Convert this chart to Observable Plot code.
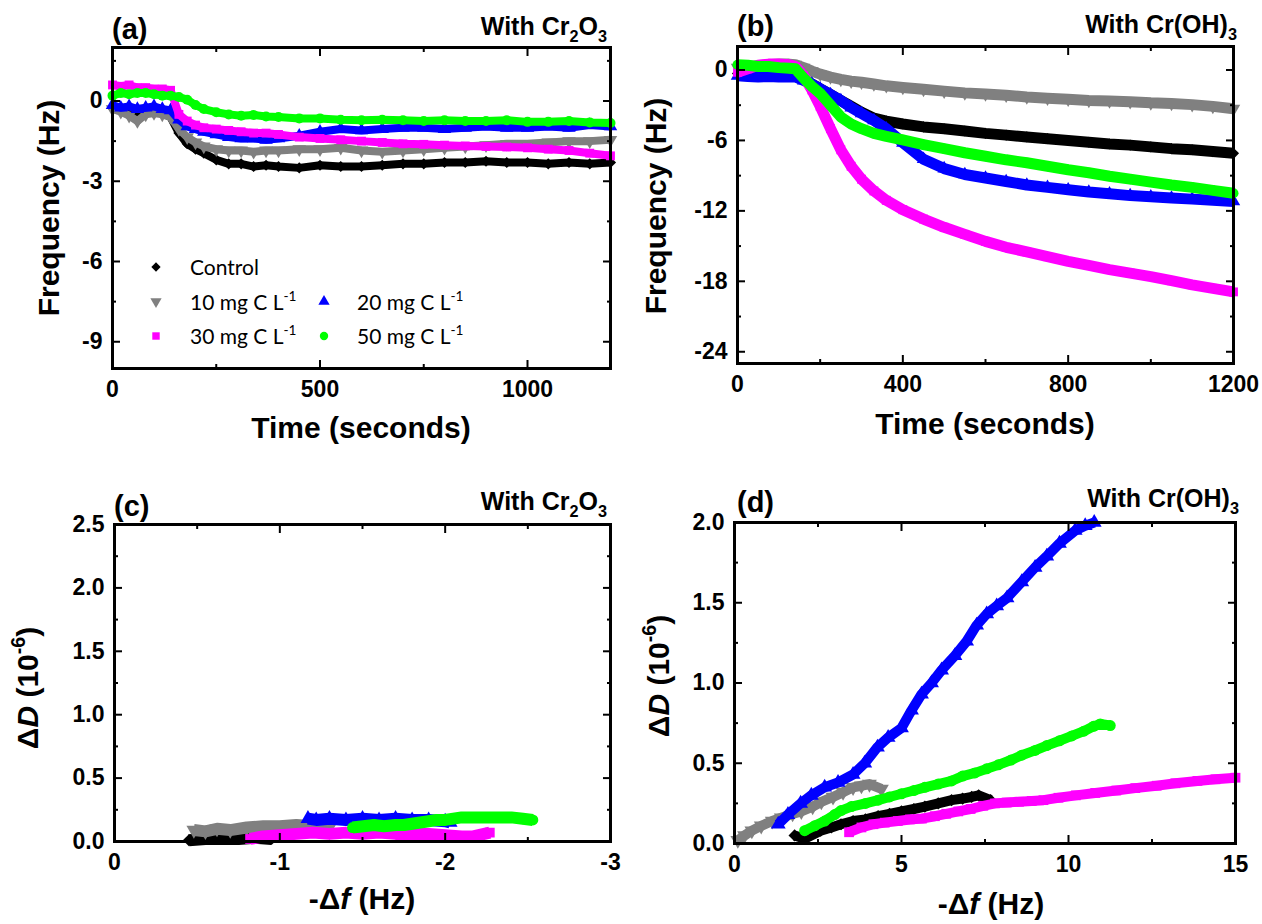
<!DOCTYPE html>
<html><head><meta charset="utf-8">
<script src="https://cdn.jsdelivr.net/npm/d3@7"></script>
<script src="https://cdn.jsdelivr.net/npm/@observablehq/plot@0.6"></script>
<style>
html,body{margin:0;padding:0;background:#fff;}
#wrap{position:relative;width:1262px;height:924px;overflow:hidden;background:#fff;}
.panel{position:absolute;}
</style></head><body><div id="wrap"></div>
<script>
// ---------- series meta ----------
const seriesNames = ["Control", "10 mg C L", "20 mg C L", "30 mg C L", "50 mg C L"];
const seriesColors = ["#000000", "#808080", "#0000ff", "#ff00ff", "#00ff00"];
const seriesSymbols = ["diamond2", "triangle", "triangle", "square", "circle"];
const seriesRotate = [0, 180, 0, 0, 0];

// ---------- panel (a): frequency vs time, Cr2O3 ----------
const timeA = [0,20,40,60,80,100,120,140,160,180,200,220,250,280,310,340,370,400,450,500,550,600,650,700,750,800,850,900,950,1000,1050,1100,1150,1200];
const controlA = [-0.25,-0.35,-0.4,-0.5,-0.45,-0.4,-0.45,-0.6,-1.2,-1.6,-1.8,-1.95,-2.2,-2.35,-2.35,-2.45,-2.4,-2.45,-2.5,-2.4,-2.45,-2.45,-2.4,-2.35,-2.35,-2.3,-2.3,-2.25,-2.3,-2.3,-2.35,-2.3,-2.35,-2.3];
const c10A = [-0.3,-0.4,-0.55,-0.75,-0.5,-0.45,-0.5,-0.6,-1.05,-1.35,-1.55,-1.7,-1.8,-1.85,-1.85,-1.9,-1.85,-1.85,-1.8,-1.8,-1.75,-1.85,-1.9,-1.85,-1.8,-1.75,-1.7,-1.65,-1.6,-1.6,-1.55,-1.5,-1.5,-1.45];
const c20A = [-0.15,-0.25,-0.2,-0.3,-0.25,-0.2,-0.3,-0.35,-0.7,-0.95,-1.05,-1.15,-1.25,-1.35,-1.4,-1.4,-1.45,-1.4,-1.3,-1.15,-1.05,-1.1,-1.05,-1.0,-1.0,-1.05,-1.0,-0.95,-1.0,-1.0,-0.95,-1.0,-0.9,-0.95];
const c30A = [0.6,0.55,0.6,0.5,0.5,0.45,0.45,0.4,-0.5,-0.75,-0.9,-1.0,-1.05,-1.1,-1.15,-1.2,-1.2,-1.25,-1.35,-1.4,-1.45,-1.5,-1.55,-1.6,-1.62,-1.65,-1.68,-1.7,-1.72,-1.75,-1.8,-1.85,-1.95,-2.05];
const c50A = [0.2,0.3,0.25,0.3,0.3,0.25,0.2,0.2,0.15,0.05,-0.15,-0.3,-0.42,-0.5,-0.55,-0.52,-0.58,-0.6,-0.65,-0.65,-0.7,-0.72,-0.7,-0.72,-0.75,-0.72,-0.75,-0.75,-0.72,-0.78,-0.78,-0.75,-0.8,-0.82];

// ---------- panel (b): frequency vs time, Cr(OH)3 ----------
const timeB = [0,25,50,75,100,125,140,160,180,200,225,250,275,300,330,360,400,450,500,550,600,650,700,750,800,850,900,950,1000,1050,1100,1150,1200];
const controlB = [-0.3,-0.3,-0.35,-0.3,-0.35,-0.35,-0.4,-0.8,-1.2,-1.6,-2.1,-2.6,-3.1,-3.6,-4.1,-4.35,-4.6,-4.85,-5.0,-5.2,-5.4,-5.55,-5.7,-5.85,-6.0,-6.15,-6.3,-6.4,-6.55,-6.7,-6.8,-6.95,-7.1];
const c10B = [0.2,0.3,0.35,0.45,0.5,0.5,0.45,0.2,-0.1,-0.35,-0.6,-0.8,-0.95,-1.05,-1.2,-1.35,-1.5,-1.65,-1.8,-1.95,-2.05,-2.15,-2.3,-2.4,-2.5,-2.6,-2.65,-2.7,-2.8,-2.85,-2.95,-3.1,-3.3];
const c20B = [-0.5,-0.55,-0.6,-0.55,-0.6,-0.6,-0.6,-0.9,-1.2,-1.6,-2.1,-2.6,-3.2,-3.7,-4.3,-5.0,-6.2,-7.6,-8.4,-8.9,-9.2,-9.5,-9.8,-10.0,-10.2,-10.4,-10.55,-10.7,-10.8,-10.9,-11.0,-11.1,-11.2];
const c30B = [-0.2,0.1,0.4,0.5,0.5,0.45,0.3,-0.5,-1.7,-3.1,-5.0,-6.8,-8.2,-9.3,-10.3,-11.1,-11.9,-12.7,-13.4,-14.0,-14.6,-15.1,-15.5,-15.9,-16.3,-16.65,-17.0,-17.3,-17.6,-17.95,-18.3,-18.6,-18.9];
const c50B = [0.45,0.4,0.3,0.3,0.2,0.15,0.1,-0.7,-1.4,-2.0,-3.0,-4.0,-4.6,-5.0,-5.4,-5.65,-5.95,-6.35,-6.7,-7.05,-7.35,-7.65,-7.9,-8.2,-8.5,-8.75,-9.05,-9.3,-9.55,-9.8,-10.0,-10.25,-10.5];

// ---------- panel (c): dissipation vs -Δf, Cr2O3 ----------
const controlC_f = [-0.45,-0.55,-0.65,-0.75,-0.85,-0.95];
const controlC_d = [0.01,0.02,0.02,0.02,0.03,0.02];
const c10C_f = [-0.48,-0.55,-0.62,-0.7,-0.8,-0.9,-1.0,-1.1,-1.2,-1.3];
const c10C_d = [0.09,0.08,0.1,0.09,0.11,0.12,0.12,0.13,0.12,0.11];
const c20C_f = [-1.17,-1.22,-1.3,-1.4,-1.5,-1.6,-1.7,-1.8,-1.9,-2.0,-2.03];
const c20C_d = [0.18,0.17,0.18,0.17,0.18,0.17,0.18,0.17,0.17,0.16,0.15];
const c30C_f = [-0.82,-0.9,-1.0,-1.1,-1.2,-1.3,-1.4,-1.5,-1.6,-1.7,-1.8,-1.9,-2.0,-2.1,-2.17,-2.27];
const c30C_d = [0.02,0.04,0.05,0.06,0.07,0.06,0.07,0.06,0.07,0.06,0.06,0.06,0.05,0.04,0.04,0.07];
const c50C_f = [-1.44,-1.57,-1.63,-1.7,-1.75,-1.8,-1.85,-1.9,-1.95,-2.0,-2.05,-2.1,-2.2,-2.3,-2.4,-2.47,-2.53];
const c50C_d = [0.11,0.13,0.12,0.13,0.13,0.14,0.15,0.16,0.17,0.17,0.18,0.19,0.19,0.19,0.19,0.18,0.17];

// ---------- panel (d): dissipation vs -Δf, Cr(OH)3 ----------
const controlD_f = [1.8,2.1,2.58,2.9,3.19,3.55,3.92,4.3,4.64,5.0,5.37,5.7,6.1,6.5,6.83,7.1,7.31,7.67];
const controlD_d = [0.05,0.03,0.08,0.1,0.12,0.14,0.15,0.17,0.185,0.2,0.215,0.23,0.25,0.27,0.28,0.29,0.30,0.27];
const c10D_f = [0.1,0.3,0.52,0.8,1.13,1.4,1.74,2.0,2.34,2.6,2.95,3.25,3.55,3.8,4.04,4.4];
const c10D_d = [0.02,0.05,0.08,0.11,0.14,0.16,0.185,0.2,0.23,0.26,0.29,0.32,0.35,0.36,0.37,0.34];
const c20D_f = [1.31,1.6,1.98,2.3,2.7,3.1,3.55,3.9,4.28,4.6,5.0,5.3,5.6,5.9,6.2,6.6,6.95,7.25,7.55,7.85,8.16,8.6,9.0,9.35,9.73,10.2,10.5,10.77];
const c20D_d = [0.12,0.18,0.25,0.3,0.35,0.38,0.43,0.5,0.6,0.66,0.72,0.83,0.93,1.0,1.08,1.17,1.26,1.36,1.43,1.48,1.53,1.63,1.72,1.79,1.87,1.95,1.98,2.0];
const c30D_f = [3.43,3.8,4.16,4.5,4.89,5.25,5.61,6.0,6.34,6.7,7.07,7.45,7.8,8.15,8.52,8.9,9.25,9.7,10.22,10.8,11.43,12.0,12.64,13.2,13.86,14.4,15.0];
const c30D_d = [0.07,0.1,0.12,0.13,0.14,0.15,0.155,0.17,0.185,0.2,0.215,0.235,0.25,0.255,0.26,0.265,0.27,0.285,0.30,0.315,0.33,0.345,0.36,0.375,0.39,0.40,0.41];
const c50D_f = [2.1,2.4,2.7,3.0,3.19,3.5,3.92,4.3,4.64,5.0,5.37,5.7,6.1,6.5,6.83,7.2,7.55,7.9,8.28,8.6,9.0,9.35,9.73,10.1,10.46,10.75,10.95,11.25];
const c50D_d = [0.08,0.11,0.14,0.18,0.205,0.23,0.25,0.27,0.29,0.31,0.33,0.35,0.37,0.39,0.42,0.44,0.465,0.49,0.52,0.55,0.58,0.61,0.64,0.67,0.70,0.73,0.745,0.735];

// ---------- ticks ----------
const xTicksA = [0, 500, 1000], xMinorA = [250, 750];
const yTicksA = [0, -3, -6, -9], yMinorA = [1.5, -1.5, -4.5, -7.5];
const xTicksB = [0, 400, 800, 1200], xMinorB = [200, 600, 1000];
const yTicksB = [0, -6, -12, -18, -24], yMinorB = [-3, -9, -15, -21];
const xTicksC = [0, -1, -2, -3], xMinorC = [-0.5, -1.5, -2.5];
const yTicksC = [0, 0.5, 1.0, 1.5, 2.0, 2.5], yMinorC = [0.25, 0.75, 1.25, 1.75, 2.25];
const xTicksD = [0, 5, 10, 15], xMinorD = [2.5, 7.5, 12.5];
const yTicksD = [0, 0.5, 1.0, 1.5, 2.0], yMinorD = [0.25, 0.75, 1.25, 1.75];

// ---------- helpers ----------
const FONT = "'Liberation Sans', Arial, Helvetica, sans-serif";
const LFONT = "Lato, 'Open Sans', sans-serif";
const intFmt = d => String(d);
const oneFmt = d => d.toFixed(1);

function build(xs, ys) { return xs.map((x, i) => ({x, y: ys[i]})); }
function makeSeries(list) {
  return list.map(([xs, ys], i) => ({data: build(xs, ys), color: seriesColors[i], symbol: seriesSymbols[i], rotate: seriesRotate[i]}));
}

function tickMarks(xMaj, xMin, yMaj, yMin) {
  const o = {fill: "none", label: null, stroke: "#000", strokeWidth: 2};
  const out = [];
  for (const a of ["bottom", "top"]) {
    out.push(Plot.axisX({...o, anchor: a, ticks: xMaj, tickSize: -8}));
    out.push(Plot.axisX({...o, anchor: a, ticks: xMin, tickSize: -4}));
  }
  for (const a of ["left", "right"]) {
    out.push(Plot.axisY({...o, anchor: a, ticks: yMaj, tickSize: -8}));
    out.push(Plot.axisY({...o, anchor: a, ticks: yMin, tickSize: -4}));
  }
  return out;
}

function makePanel(c) {
  const marks = [];
  c.series.forEach(s => {
    if (c.lineWidth) marks.push(Plot.line(s.data, {x: "x", y: "y", stroke: s.color, strokeWidth: c.lineWidth, strokeLinejoin: "round", strokeLinecap: "butt"}));
    marks.push(Plot.dot(s.data, {x: "x", y: "y", symbol: s.symbol, rotate: s.rotate, r: c.r, fill: s.color, stroke: "none"}));
  });
  marks.push(...tickMarks(c.xMaj, c.xMin, c.yMaj, c.yMin));
  marks.push(Plot.axisX({anchor: "bottom", ticks: c.xMaj, tickSize: 0, tickPadding: 12, tickFormat: c.xFmt, label: null, fontSize: 23, fontWeight: "bold", fontFamily: FONT, fill: "#000"}));
  marks.push(Plot.axisY({anchor: "left", ticks: c.yMaj, tickSize: 0, tickPadding: 10, tickFormat: c.yFmt, label: null, fontSize: 23, fontWeight: "bold", fontFamily: FONT, fill: "#000"}));
  marks.push(Plot.frame({stroke: "#000", strokeWidth: 3}));
  const svg = Plot.plot({
    width: c.w, height: c.h,
    marginLeft: c.ml, marginRight: c.mr, marginTop: c.mt, marginBottom: c.mb,
    x: {domain: c.xDomain}, y: {domain: c.yDomain},
    style: {fontFamily: FONT, background: "transparent", overflow: "visible"},
    marks
  });
  svg.classList.add("panel");
  svg.style.left = c.left + "px";
  svg.style.top = c.top + "px";
  svg.style.overflow = "visible";
  document.getElementById("wrap").appendChild(svg);
  return d3.select(svg);
}

// parts: [text, kind] kind: "n" normal, "i" italic, "sub", "sup"
function richText(sel, {x, y, anchor = "start", size, weight = "bold", rotate = false, family = FONT, parts}) {
  const t = sel.append("text")
    .attr("font-family", family).attr("font-size", size).attr("font-weight", weight)
    .attr("text-anchor", anchor).attr("fill", "#000");
  if (rotate) t.attr("transform", `translate(${x},${y}) rotate(-90)`);
  else t.attr("x", x).attr("y", y);
  let shift = 0;
  parts.forEach(([txt, kind]) => {
    const sp = t.append("tspan").text(txt);
    let target = 0;
    if (kind === "sub") { target = size * 0.28; sp.attr("font-size", size * 0.65); }
    else if (kind === "sup") { target = -size * 0.42; sp.attr("font-size", size * 0.65); }
    if (kind === "i") sp.attr("font-style", "italic");
    if (target - shift !== 0) sp.attr("dy", target - shift);
    shift = target;
  });
  return t;
}

// ---------- panel (a) ----------
const svgA = makePanel({
  left: 0, top: 0, w: 631, h: 462, ml: 112, mr: 21, mt: 47, mb: 94,
  xDomain: [0, 1200], yDomain: [-10, 2],
  xMaj: xTicksA, xMin: xMinorA, yMaj: yTicksA, yMin: yMinorA, xFmt: intFmt, yFmt: intFmt,
  lineWidth: 8, r: 5,
  series: makeSeries([[timeA, controlA], [timeA, c10A], [timeA, c20A], [timeA, c30A], [timeA, c50A]])
});
richText(svgA, {x: 112, y: 39, size: 29, parts: [["(a)"]]});
richText(svgA, {x: 607, y: 35, anchor: "end", size: 25, parts: [["With Cr"], ["2", "sub"], ["O"], ["3", "sub"]]});
richText(svgA, {x: 59, y: 208, anchor: "middle", size: 30, rotate: true, parts: [["Frequency (Hz)"]]});
richText(svgA, {x: 361, y: 438, anchor: "middle", size: 30, parts: [["Time (seconds)"]]});

// legend in panel (a)
const legendRows = [
  {i: 0, col: 0, row: 0}, {i: 1, col: 0, row: 1}, {i: 2, col: 1, row: 1}, {i: 3, col: 0, row: 2}, {i: 4, col: 1, row: 2}
];
const d3sym = {diamond2: d3.symbolDiamond2, triangle: d3.symbolTriangle, square: d3.symbolSquare, circle: d3.symbolCircle};
const lg = svgA.append("g");
legendRows.forEach(({i, col, row}) => {
  const mx = col === 0 ? 156 : 324, tx = col === 0 ? 190 : 357, cy = 267 + row * 34.5;
  lg.append("path").attr("d", d3.symbol(d3sym[seriesSymbols[i]], 55)())
    .attr("transform", `translate(${mx},${cy}) rotate(${seriesRotate[i]})`).attr("fill", seriesColors[i]);
  const parts = i === 0 ? [[seriesNames[i]]] : [[seriesNames[i]], ["-1", "sup"]];
  richText(lg, {x: tx, y: cy + 8, size: 21, weight: "normal", family: LFONT, parts});
});

// ---------- panel (b) ----------
const svgB = makePanel({
  left: 631, top: 0, w: 631, h: 462, ml: 106, mr: 29, mt: 46, mb: 99,
  xDomain: [0, 1200], yDomain: [-25, 2],
  xMaj: xTicksB, xMin: xMinorB, yMaj: yTicksB, yMin: yMinorB, xFmt: intFmt, yFmt: intFmt,
  lineWidth: 11, r: 5,
  series: makeSeries([[timeB, controlB], [timeB, c10B], [timeB, c20B], [timeB, c30B], [timeB, c50B]])
});
richText(svgB, {x: 106, y: 36, size: 29, parts: [["(b)"]]});
richText(svgB, {x: 606, y: 33, anchor: "end", size: 25, parts: [["With Cr(OH)"], ["3", "sub"]]});
richText(svgB, {x: 35, y: 206, anchor: "middle", size: 30, rotate: true, parts: [["Frequency (Hz)"]]});
richText(svgB, {x: 354, y: 434, anchor: "middle", size: 30, parts: [["Time (seconds)"]]});

// ---------- panel (c) ----------
const svgC = makePanel({
  left: 0, top: 462, w: 631, h: 462, ml: 114, mr: 21, mt: 62, mb: 83,
  xDomain: [0, -3], yDomain: [0, 2.5],
  xMaj: xTicksC, xMin: xMinorC, yMaj: yTicksC, yMin: yMinorC, xFmt: intFmt, yFmt: oneFmt,
  lineWidth: 12, r: 5.5,
  series: makeSeries([[controlC_f, controlC_d], [c10C_f, c10C_d], [c20C_f, c20C_d], [c30C_f, c30C_d], [c50C_f, c50C_d]])
});
richText(svgC, {x: 114, y: 54, size: 29, parts: [["(c)"]]});
richText(svgC, {x: 607, y: 48, anchor: "end", size: 25, parts: [["With Cr"], ["2", "sub"], ["O"], ["3", "sub"]]});
richText(svgC, {x: 38, y: 226, anchor: "middle", size: 30, rotate: true, parts: [["Δ"], ["D", "i"], [" (10"], ["-6", "sup"], [")", "n"]]});
richText(svgC, {x: 362, y: 447, anchor: "middle", size: 30, parts: [["-Δ"], ["f", "i"], [" (Hz)"]]});

// ---------- panel (d) ----------
const svgD = makePanel({
  left: 631, top: 462, w: 631, h: 462, ml: 103, mr: 27, mt: 60, mb: 81,
  xDomain: [0, 15], yDomain: [0, 2.0],
  xMaj: xTicksD, xMin: xMinorD, yMaj: yTicksD, yMin: yMinorD, xFmt: intFmt, yFmt: oneFmt,
  lineWidth: 10, r: 5.5,
  series: makeSeries([[controlD_f, controlD_d], [c10D_f, c10D_d], [c20D_f, c20D_d], [c30D_f, c30D_d], [c50D_f, c50D_d]])
});
richText(svgD, {x: 106, y: 50, size: 29, parts: [["(d)"]]});
richText(svgD, {x: 608, y: 45, anchor: "end", size: 25, parts: [["With Cr(OH)"], ["3", "sub"]]});
richText(svgD, {x: 38, y: 214, anchor: "middle", size: 30, rotate: true, parts: [["Δ"], ["D", "i"], [" (10"], ["-6", "sup"], [")", "n"]]});
richText(svgD, {x: 360, y: 452, anchor: "middle", size: 30, parts: [["-Δ"], ["f", "i"], [" (Hz)"]]});
</script></body></html>
